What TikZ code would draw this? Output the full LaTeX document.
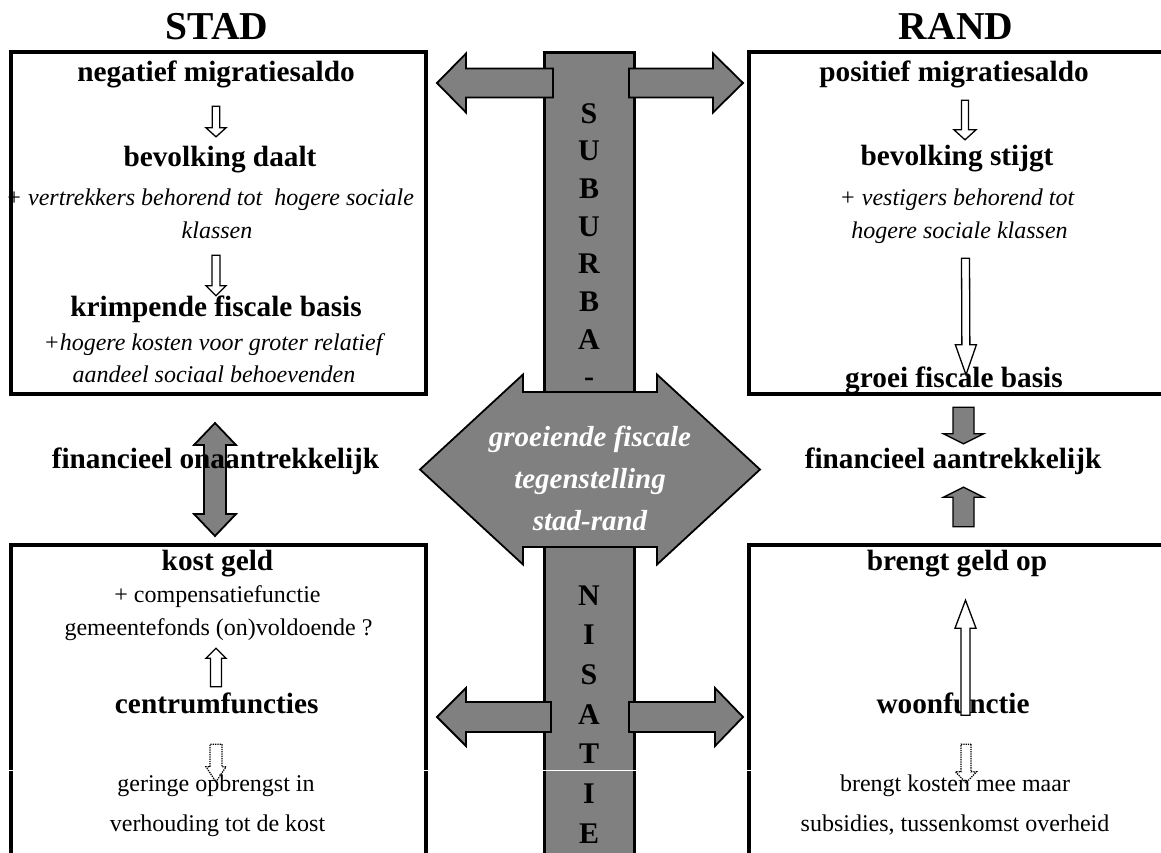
\documentclass[tikz,border=0pt]{standalone}
\usepackage{fontspec}
\setmainfont{Liberation Serif}
\usetikzlibrary{calc}
\definecolor{stemgrey}{HTML}{808080}

\tikzset{
  arrshaft/.store in=\arrshaft, arrshaft=4pt,
  arrhead/.store in=\arrhead, arrhead=10pt,
  arrlen/.store in=\arrlen, arrlen=10pt,
  % block arrow with one head
  oneway/.style={line join=miter, to path={
    let \p1=(\tikztostart), \p2=(\tikztotarget),
        \p3=($(\p2)!\arrlen!(\p1)$) in
    ($(\p1)!\arrshaft!90:(\p2)$) -- ($(\p3)!\arrshaft!90:(\p2)$)
    -- ($(\p3)!\arrhead!90:(\p2)$) -- (\p2)
    -- ($(\p3)!\arrhead!-90:(\p2)$) -- ($(\p3)!\arrshaft!-90:(\p2)$)
    -- ($(\p1)!\arrshaft!-90:(\p2)$) -- cycle}},
  % block arrow with two heads
  twoway/.style={line join=miter, to path={
    let \p1=(\tikztostart), \p2=(\tikztotarget),
        \p3=($(\p2)!\arrlen!(\p1)$), \p4=($(\p1)!\arrlen!(\p2)$) in
    (\p1) -- ($(\p4)!\arrhead!-90:(\p2)$) -- ($(\p4)!\arrshaft!-90:(\p2)$)
    -- ($(\p3)!\arrshaft!-90:(\p2)$) -- ($(\p3)!\arrhead!-90:(\p2)$) -- (\p2)
    -- ($(\p3)!\arrhead!90:(\p2)$) -- ($(\p3)!\arrshaft!90:(\p2)$)
    -- ($(\p4)!\arrshaft!90:(\p2)$) -- ($(\p4)!\arrhead!90:(\p2)$) -- cycle}},
  box/.style={draw, line width=3.5pt, outer sep=0pt, inner sep=0pt,
    minimum width=415pt, minimum height=342pt, anchor=north west},
  title/.style={font=\fontsize{39.5}{42}\selectfont\bfseries, anchor=base, inner sep=0pt},
  item/.style={font=\fontsize{29.3}{32}\selectfont\bfseries, anchor=base,
    inner sep=0pt, text height=20pt, text depth=7pt},
  note/.style={font=\fontsize{24}{28}\selectfont\itshape, anchor=base,
    inner sep=0pt, text height=17pt, text depth=6pt},
  normaltext/.style={font=\fontsize{24}{28}\selectfont, anchor=base,
    inner sep=0pt, text height=17pt, text depth=6pt},
  letter/.style={font=\fontsize{30}{32}\selectfont\bfseries, anchor=base, inner sep=0pt},
  greyshape/.style={draw=black, fill=stemgrey, line width=1.8pt},
  hollow/.style={oneway, draw=black, fill=white, line width=1.3pt},
  dotarrow/.style={oneway, draw=black, densely dotted, line width=1.3pt},
}

\begin{document}
\begin{tikzpicture}[x=1pt,y=-1pt]
  \useasboundingbox (0,0) rectangle (1161,852);

  % Boxes
  \node[box] (stadtop) at (11,52) {};
  \node[box] (randtop) at (749,52) {};
  \node[box] (stadbot) at (11,545) {};
  \node[box] (randbot) at (749,545) {};

  % Stem
  \node[greyshape, line width=3pt, outer sep=0pt, minimum width=90pt,
    minimum height=835pt, anchor=north] (stem) at (589,52) {};

  % Side arrows
  \draw[greyshape, oneway, arrshaft=14.5pt, arrhead=29.5pt, arrlen=29pt]
    ([xshift=9pt,yshift=-31pt]stem.north west) to ([xshift=11pt,yshift=-31pt]stadtop.north east);
  \draw[greyshape, oneway, arrshaft=14.5pt, arrhead=29.5pt, arrlen=30pt]
    ([xshift=-5pt,yshift=-31pt]stem.north east) to ([xshift=-6pt,yshift=-31pt]randtop.north west);
  \draw[greyshape, oneway, arrshaft=15pt, arrhead=29pt, arrlen=29pt]
    ([xshift=7pt,yshift=-247.5pt]stem.west) to ([xshift=11pt,yshift=-172pt]stadbot.north east);
  \draw[greyshape, oneway, arrshaft=15pt, arrhead=29pt, arrlen=28pt]
    ([xshift=-5pt,yshift=-247.5pt]stem.east) to ([xshift=-6pt,yshift=-172pt]randbot.north west);

  \draw[white, line width=1pt] (0,770) -- (1161,770);

  % Central arrow
  \draw[greyshape, twoway, arrshaft=77.5pt, arrhead=95pt, arrlen=103pt]
    ([xshift=-169pt]stem.center) to ([xshift=171pt]stem.center);
  \node[font=\fontsize{29}{42}\selectfont\bfseries\itshape, text=white, align=center]
    (tegen) at (590,478) {groeiende fiscale\\tegenstelling\\stad-rand};

  \foreach \c [count=\i from 0] in {S,U,B,U,R,B,A,-}
    \node[letter] (sub\i) at (589,{123+37.7*\i}) {\c};
  \foreach \c [count=\i from 0] in {N,I,S,A,T,I,E}
    \node[letter] (nis\i) at (589,{605+39.7*\i}) {\c};

  % STAD
  \draw[greyshape, twoway, arrshaft=11pt, arrhead=21pt, arrlen=22pt]
    ([xshift=-3.5pt,yshift=-29pt]stadtop.south) to ([xshift=-3.5pt,yshift=9pt]stadbot.north);
  \node[title] (stad) at (217,39) {STAD};
  \node[item] (neg) at (216,81) {negatief migratiesaldo};
  \node[item] (daalt) at (220,166) {bevolking daalt};
  \node[note] (vertr1) at (210,205) {+ vertrekkers behorend tot\ \ hogere sociale};
  \node[note] (vertr2) at (217,238) {klassen};
  \node[item] (krimp) at (216,316) {krimpende fiscale basis};
  \node[note] (hoger1) at (213,350) {+hogere kosten voor groter relatief};
  \node[note] (hoger2) at (214,382) {aandeel sociaal behoevenden};
  \node[item] (finon) at (215.5,468) {financieel onaantrekkelijk};
  \node[item] (kost) at (217.5,570) {kost geld};
  \node[normaltext] (comp1) at (217.5,602) {+ compensatiefunctie};
  \node[normaltext] (comp2) at (218.5,635) {gemeentefonds (on)voldoende ?};
  \node[item] (centrum) at (216.7,713) {centrumfuncties};
  \node[normaltext] (gering1) at (216,791) {geringe opbrengst in};
  \node[normaltext] (gering2) at (217.5,831) {verhouding tot de kost};

  \draw[hollow, arrshaft=3.7pt, arrlen=9pt]
    ([yshift=-18pt]neg.south) to ([xshift=-4pt,yshift=9pt]daalt.north);
  \draw[hollow] ([xshift=-1pt,yshift=-11pt]vertr2.south) to (krimp.north);
  \draw[hollow, arrshaft=5.5pt]
    ([xshift=-0.7pt,yshift=6pt]centrum.north) to ([xshift=-2.5pt,yshift=-7pt]comp2.south);
  \draw[dotarrow, arrshaft=6pt, arrlen=15pt]
    ([xshift=-0.7pt,yshift=-24pt]centrum.south) to ([yshift=-8pt]gering1.north);

  % RAND
  \node[title] (rand) at (956,39) {RAND};
  \node[item] (pos) at (954,81) {positief migratiesaldo};
  \node[item] (stijgt) at (957,165) {bevolking stijgt};
  \node[note] (vest1) at (957,205) {+ vestigers behorend tot};
  \node[note] (vest2) at (959.5,238) {hogere sociale klassen};
  \node[item] (groei) at (954,387) {groei fiscale basis};
  \node[item] (finaan) at (953,468) {financieel aantrekkelijk};
  \node[item] (geldop) at (957,570) {brengt geld op};
  \node[item] (woon) at (953,713) {woonfunctie};
  \node[normaltext] (kosten1) at (955,791) {brengt kosten mee maar};
  \node[normaltext] (kosten2) at (955,831) {subsidies, tussenkomst overheid};

  \draw[hollow, arrshaft=3.5pt, arrhead=11pt]
    ([xshift=11pt,yshift=-12pt]pos.south) to ([xshift=8pt,yshift=5pt]stijgt.north);
  \draw[hollow, arrhead=10.5pt, arrlen=30pt]
    ([xshift=6pt,yshift=-14pt]vest2.south) to ([xshift=12pt,yshift=-8pt]groei.north);
  \draw[greyshape, oneway, line width=1.3pt, arrshaft=10.5pt, arrhead=20pt]
    ([xshift=9.5pt,yshift=-13pt]groei.south) to ([xshift=10.5pt,yshift=4pt]finaan.north);
  \draw[greyshape, oneway, line width=1.3pt, arrshaft=10.5pt, arrhead=20pt]
    ([xshift=6.5pt,yshift=23pt]geldop.north) to ([xshift=10.5pt,yshift=-12pt]finaan.south);
  \draw[hollow, arrshaft=4.5pt, arrhead=10.5pt, arrlen=28pt]
    ([xshift=12.5pt,yshift=5pt]woon.south) to ([xshift=8.5pt,yshift=-23pt]geldop.south);
  \draw[dotarrow, arrshaft=5pt, arrhead=10.5pt, arrlen=11pt]
    ([xshift=13pt,yshift=-24pt]woon.south) to ([xshift=11pt,yshift=-9pt]kosten1.north);
\end{tikzpicture}
\end{document}
